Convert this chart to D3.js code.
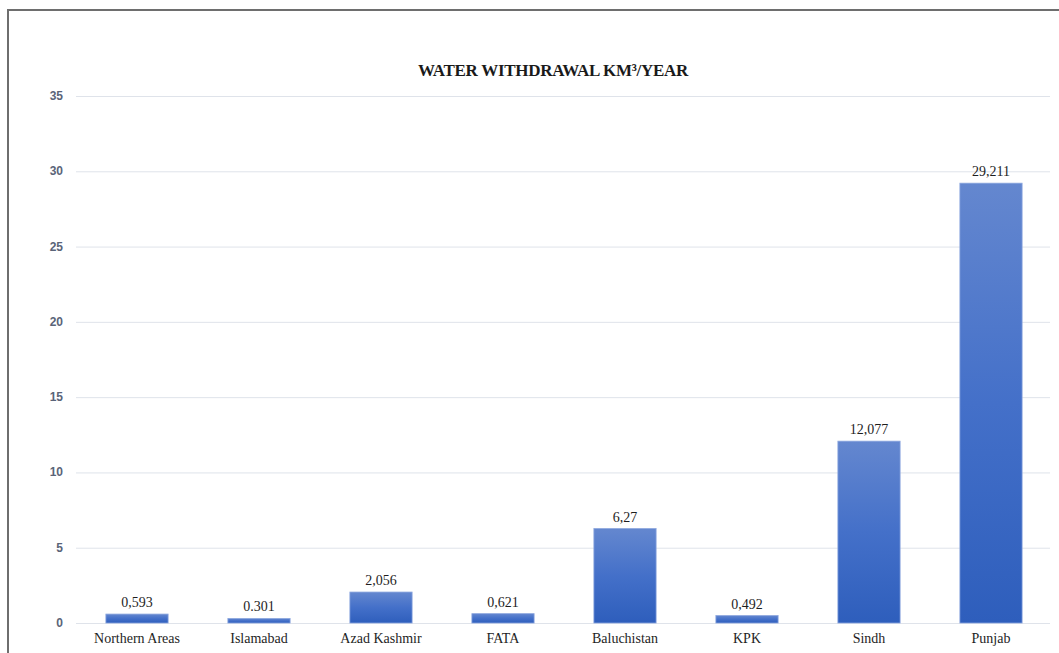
<!DOCTYPE html>
<html><head><meta charset="utf-8">
<script src="https://cdn.jsdelivr.net/npm/d3@7"></script>
<style>
html,body{margin:0;padding:0;background:#fff;}
svg{display:block;}
</style></head>
<body>
<svg id="c" width="1059" height="653"></svg>
<script>
const categories = ["Northern Areas","Islamabad","Azad Kashmir","FATA","Baluchistan","KPK","Sindh","Punjab"];
const values = [0.593,0.301,2.056,0.621,6.27,0.492,12.077,29.211];
const valueLabels = ["0,593","0.301","2,056","0,621","6,27","0,492","12,077","29,211"];
const yTicks = [0,5,10,15,20,25,30,35];
const title = "WATER WITHDRAWAL KM³/YEAR";

const svg = d3.select("#c");
const W = 1059, H = 653;
const m = {left:76, right:7, top:96, bottom:30};

// frame
svg.append("path").attr("d",`M8,${H} L8,10 L${W},10`).attr("fill","none").attr("stroke","#6e6e6e").attr("stroke-width",2);

const x = d3.scaleBand().domain(categories).range([m.left, m.left+8*122]).paddingInner(0.49).paddingOuter(0.245);
const y = d3.scaleLinear().domain([0,35]).range([623,96]);

const defs = svg.append("defs");
const g = defs.append("linearGradient").attr("id","bg").attr("x1",0).attr("y1",0).attr("x2",0).attr("y2",1);
g.append("stop").attr("offset","0%").attr("stop-color","#6487cf");
g.append("stop").attr("offset","50%").attr("stop-color","#4470c9");
g.append("stop").attr("offset","100%").attr("stop-color","#2e5ebc");

// gridlines
svg.append("g").selectAll("line").data(yTicks).join("line")
  .attr("x1",m.left).attr("x2",1050)
  .attr("y1",d=>y(d)+0.5).attr("y2",d=>y(d)+0.5)
  .attr("stroke","#dfe3ea").attr("stroke-width",1);

// y tick labels
svg.append("g").selectAll("text").data(yTicks).join("text")
  .attr("x",63).attr("y",d=>y(d)+4)
  .attr("text-anchor","end")
  .attr("font-family","'Liberation Sans', Arial, sans-serif")
  .attr("font-size",12).attr("font-weight","bold")
  .attr("fill","#5a6478")
  .text(d=>d);

// bars
svg.append("g").selectAll("rect").data(values).join("rect")
  .attr("x",(d,i)=>x(categories[i]))
  .attr("width",x.bandwidth())
  .attr("y",d=>y(d))
  .attr("height",d=>y(0)-y(d))
  .attr("fill","url(#bg)")
  .attr("stroke","#8ba6de").attr("stroke-width",0.8);

// value labels
svg.append("g").selectAll("text").data(values).join("text")
  .attr("x",(d,i)=>x(categories[i])+x.bandwidth()/2)
  .attr("y",d=>y(d)-7)
  .attr("text-anchor","middle")
  .attr("font-family","'Liberation Serif', 'Times New Roman', serif")
  .attr("font-size",14).attr("fill","#1e1e1e")
  .text((d,i)=>valueLabels[i]);

// category labels
svg.append("g").selectAll("text").data(categories).join("text")
  .attr("x",d=>x(d)+x.bandwidth()/2)
  .attr("y",643)
  .attr("text-anchor","middle")
  .attr("font-family","'Liberation Serif', 'Times New Roman', serif")
  .attr("font-size",14).attr("fill","#1e1e1e")
  .text(d=>d);

// title
svg.append("text").attr("x",553).attr("y",76).attr("text-anchor","middle")
  .attr("font-family","'Liberation Serif', 'Times New Roman', serif")
  .attr("font-size",17).attr("font-weight","bold").attr("fill","#1a1a1a")
  .attr("letter-spacing","-0.3")
  .text(title);
</script>
</body></html>
